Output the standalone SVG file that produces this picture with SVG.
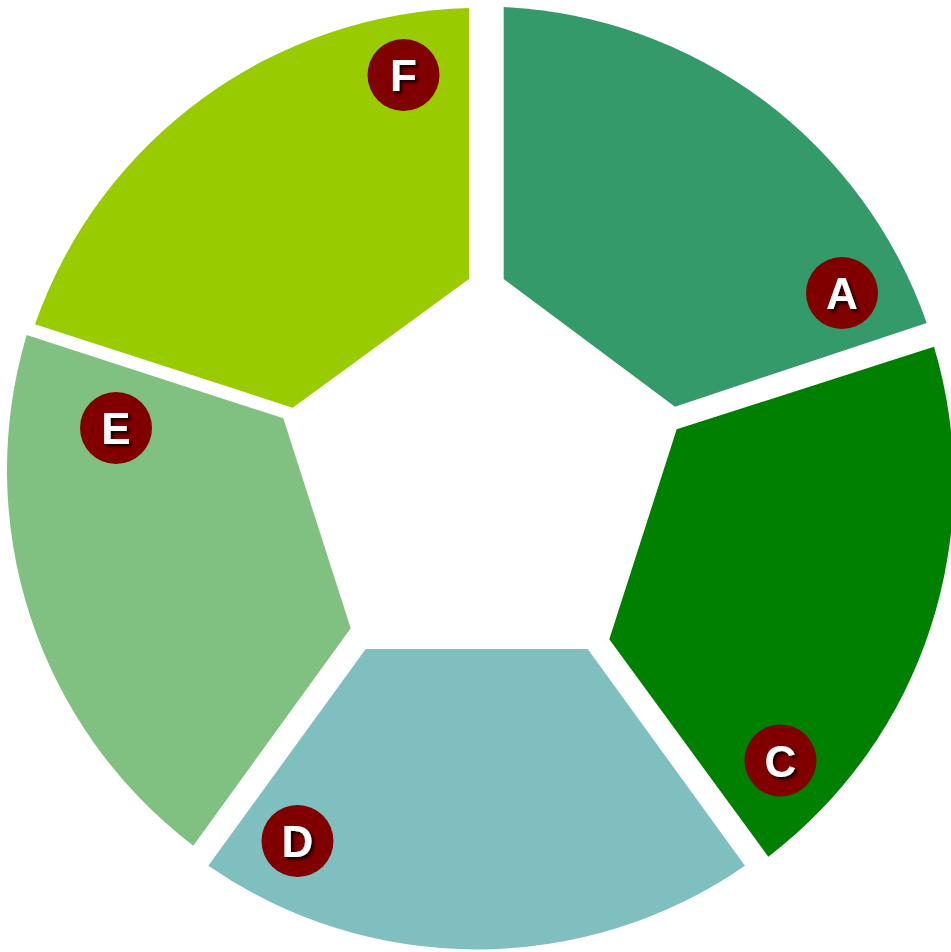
<svg xmlns="http://www.w3.org/2000/svg" width="951" height="952" viewBox="0 0 951 952">
<defs>
<filter id="sh" x="-30%" y="-30%" width="160%" height="160%">
<feDropShadow dx="2.5" dy="2.5" stdDeviation="1.5" flood-color="#000" flood-opacity="0.85"/>
</filter>
<style>
.badge{fill:#800000}
.lbl{fill:#fff;font-family:"Liberation Sans",Arial,sans-serif;font-weight:bold;font-size:44px;text-anchor:middle;filter:url(#sh)}
</style>
</defs>
<rect width="951" height="952" fill="#fff"/>
<g id="seg-A">
<path d="M503.7,7 A472,472 0 0,1 926.7,323 L675,406.7 L503.7,279 Z" fill="#349a6a"/>
<circle class="badge" cx="842" cy="293" r="36"/>
<text class="lbl" x="842" y="309">A</text>
</g>
<g id="seg-C">
<path d="M934,346.7 A472,472 0 0,1 768.3,856.7 L609.3,639.3 L676.7,429.3 Z" fill="#008000"/>
<circle class="badge" cx="780.5" cy="760.5" r="36"/>
<text class="lbl" x="780.5" y="776.5">C</text>
</g>
<g id="seg-D">
<path d="M745,865.7 A472,472 0 0,1 208.3,865.7 L365.7,649 L587.7,649 Z" fill="#80bfbf"/>
<circle class="badge" cx="297.5" cy="841" r="36"/>
<text class="lbl" x="297.5" y="857">D</text>
</g>
<g id="seg-E">
<path d="M193.3,845.7 A472,472 0 0,1 26.7,335 L283.3,418.3 L350.7,628.3 Z" fill="#80c080"/>
<circle class="badge" cx="116" cy="428" r="36"/>
<text class="lbl" x="116" y="444">E</text>
</g>
<g id="seg-F">
<path d="M35,324.3 A472,472 0 0,1 469,8 L469,279 L292.7,407.7 Z" fill="#99cc00"/>
<circle class="badge" cx="403.5" cy="75" r="36"/>
<text class="lbl" x="403.5" y="91">F</text>
</g>
<g id="connectors"/>
</svg>
